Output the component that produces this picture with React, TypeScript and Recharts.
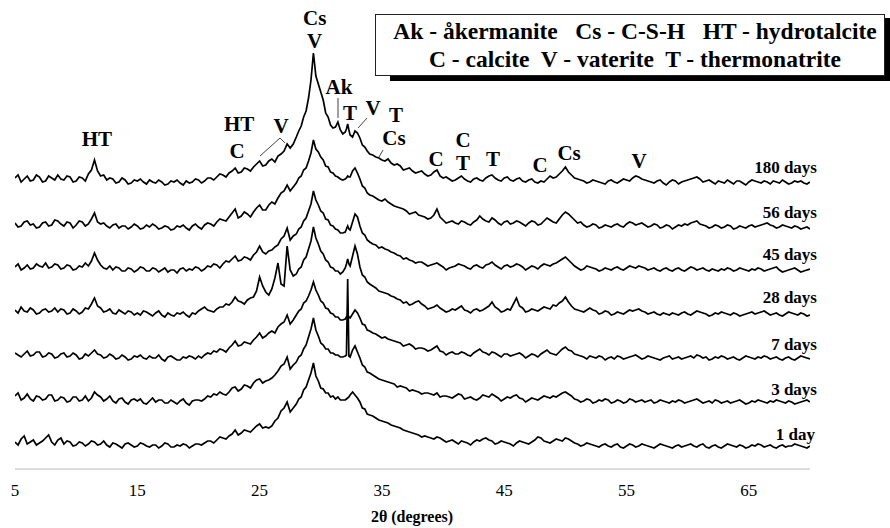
import React from 'react';
import { LineChart, Line, XAxis, YAxis, ReferenceDot, ReferenceLine } from 'recharts';

// 2θ sampling positions (degrees)
const X_2THETA = [
  5, 5.25, 5.5, 5.75, 6, 6.25, 6.5, 6.75, 7, 7.25, 7.5, 7.75, 8, 8.25, 8.5, 8.75, 9, 9.25, 9.5, 9.75,
  10, 10.25, 10.5, 10.75, 11, 11.25, 11.5, 11.75, 12, 12.25, 12.5, 12.75, 13, 13.25, 13.5, 13.75, 14, 14.25, 14.5, 14.75,
  15, 15.25, 15.5, 15.75, 16, 16.25, 16.5, 16.75, 17, 17.25, 17.5, 17.75, 18, 18.25, 18.5, 18.75, 19, 19.25, 19.5, 19.75,
  20, 20.25, 20.5, 20.75, 21, 21.25, 21.5, 21.75, 22, 22.25, 22.5, 22.75, 23, 23.25, 23.5, 23.75, 24, 24.25, 24.5, 24.75,
  25, 25.25, 25.5, 25.75, 26, 26.25, 26.5, 26.75, 27, 27.25, 27.5, 27.75,
  28, 28.2, 28.4, 28.6, 28.8, 29, 29.2, 29.4, 29.6, 29.8, 30, 30.2, 30.4, 30.6, 30.8, 31, 31.2, 31.4, 31.6, 31.8,
  32, 32.1, 32.2, 32.3, 32.4, 32.6, 32.8, 33, 33.2, 33.4, 33.6, 33.8, 34,
  34.25, 34.5, 34.75, 35, 35.25, 35.5, 35.75, 36, 36.25, 36.5, 36.75, 37, 37.25, 37.5, 37.75, 38, 38.25, 38.5, 38.75, 39,
  39.25, 39.5, 39.75, 40, 40.25, 40.5, 40.75, 41, 41.25, 41.5, 41.75, 42, 42.25, 42.5, 42.75, 43, 43.25, 43.5, 43.75, 44,
  44.25, 44.5, 44.75, 45, 45.25, 45.5, 45.75, 46, 46.25, 46.5, 46.75, 47, 47.25, 47.5, 47.75, 48, 48.25, 48.5, 48.75, 49,
  49.25, 49.5, 49.75, 50, 50.25, 50.5, 50.75, 51, 51.25, 51.5, 51.75, 52, 52.25, 52.5, 52.75, 53, 53.25, 53.5, 53.75, 54,
  54.25, 54.5, 54.75, 55, 55.25, 55.5, 55.75, 56, 56.25, 56.5, 56.75, 57, 57.25, 57.5, 57.75, 58, 58.25, 58.5, 58.75, 59,
  59.25, 59.5, 59.75, 60, 60.25, 60.5, 60.75, 61, 61.25, 61.5, 61.75, 62, 62.25, 62.5, 62.75, 63, 63.25, 63.5, 63.75, 64,
  64.25, 64.5, 64.75, 65, 65.25, 65.5, 65.75, 66, 66.25, 66.5, 66.75, 67, 67.25, 67.5, 67.75, 68, 68.25, 68.5, 68.75, 69,
  69.25, 69.5, 69.75, 70,
];

const X_TICKS = [5, 15, 25, 35, 45, 55, 65];

// Intensities (a.u.) of each pattern
const I_180 = [
  6, 9, 2, 5, 8, 3, 4, 9, 7, 2, 3, 8, 6, 4, 9, 5, 4, 8, 7, 2,
  3, 7, 6, 3, 10, 14, 24, 13, 8, 9, 4, 6, 5, 1, 2, 6, 4, 0, 1, 4,
  3, 5, 2, 0, 4, 2, 1, 4, 2, -1, 0, 3, 2, 4, 1, -1, 3, 1, 2, 5,
  4, 1, 3, 6, 6, 4, 7, 10, 9, 7, 11, 13, 16, 11, 12, 16, 15, 13, 17, 20,
  23, 18, 19, 23, 25, 22, 28, 30, 33, 40, 36, 40,
  47, 53, 58, 67, 73, 86, 104, 131, 108, 100, 92, 84, 71, 67, 59, 56, 57, 62, 54, 50,
  52, 55, 60, 54, 49, 47, 53, 51, 46, 39, 37, 33, 30,
  29, 27, 26, 24, 23, 25, 21, 19, 20, 18, 14, 15, 16, 13, 11, 12, 13, 10, 8, 9,
  12, 14, 8, 6, 7, 5, 3, 4, 6, 8, 5, 3, 2, 5, 6, 4, 3, 6, 8, 9,
  6, 4, 3, 6, 7, 4, 3, 5, 6, 3, 2, 4, 5, 2, 1, 3, 2, 5, 8, 6,
  7, 10, 13, 17, 12, 9, 6, 5, 4, 3, 1, 2, 4, 3, 2, 1, 0, 3, 4, 2,
  1, 3, 5, 4, 3, 6, 8, 7, 5, 4, 3, 2, 1, 3, 4, 1, -1, 2, 4, 3,
  0, 2, 3, 4, 5, 6, 7, 5, 2, 3, 4, 2, 0, 3, 2, 1, 4, 2, 0, 3,
  3, 1, -1, 2, 4, 3, 2, 1, 3, 2, 0, 3, 2, 1, 4, 2, 0, 1, 3, 2,
  3, 1, 0, 2,
];

const I_56 = [
  6, 2, 3, 7, 8, 4, 5, 1, 2, 6, 7, 3, 4, 9, 8, 5, 3, 7, 6, 1,
  4, 8, 7, 3, 5, 10, 16, 7, 5, 6, 3, 1, 4, 5, 1, 3, 3, 0, 2, 5,
  3, 0, 1, 4, 2, 5, 3, 0, 1, 3, 2, -1, 0, 3, 2, 4, 1, -1, 3, 5,
  2, 0, 4, 6, 5, 3, 7, 10, 9, 8, 12, 16, 20, 11, 13, 17, 15, 12, 17, 21,
  24, 19, 19, 24, 27, 25, 31, 36, 38, 44, 38, 42,
  46, 51, 53, 59, 61, 68, 76, 89, 80, 77, 72, 69, 63, 62, 57, 56, 53, 52, 50, 49,
  50, 51, 53, 52, 52, 58, 61, 56, 50, 43, 41, 36, 34,
  33, 31, 29, 28, 30, 27, 25, 23, 22, 21, 20, 18, 15, 16, 17, 14, 13, 12, 10, 11,
  14, 20, 12, 9, 6, 7, 8, 6, 5, 8, 7, 5, 4, 7, 9, 13, 10, 8, 7, 11,
  9, 6, 4, 7, 8, 5, 6, 8, 7, 5, 3, 6, 8, 7, 4, 5, 8, 11, 9, 7,
  6, 10, 14, 17, 15, 12, 9, 6, 7, 4, 2, 3, 5, 4, 1, 2, 4, 3, 2, 4,
  5, 3, 2, 5, 7, 6, 4, 5, 6, 4, 2, 3, 5, 4, 1, 2, 4, 3, 0, 2,
  4, 3, 5, 4, 6, 7, 8, 5, 4, 3, 1, 2, 4, 3, 1, 2, 4, 3, 0, 1,
  3, 2, 1, 3, 4, 2, 3, 4, 5, 6, 4, 3, 1, 2, 4, 3, 2, 1, 3, 2,
  0, 1, 2, 0,
];

const I_45 = [
  5, 8, 2, 4, 7, 3, 4, 8, 6, 5, 9, 4, 5, 8, 7, 3, 4, 7, 6, 2,
  3, 6, 5, 9, 6, 11, 19, 12, 7, 4, 3, 6, 2, 5, 4, 1, 1, 4, 3, 0,
  2, 5, 4, 1, 1, 4, 3, 0, 2, 4, 0, 2, 2, -1, 3, 4, 1, 3, 2, 5,
  4, 1, 3, 6, 5, 8, 7, 4, 8, 11, 10, 13, 16, 11, 12, 15, 14, 12, 17, 20,
  26, 20, 18, 21, 22, 25, 27, 33, 36, 44, 32, 36,
  38, 43, 45, 51, 54, 61, 68, 81, 72, 67, 61, 59, 53, 52, 47, 46, 43, 42, 39, 39,
  40, 43, 46, 43, 42, 50, 58, 55, 46, 39, 37, 32, 30,
  28, 27, 24, 25, 23, 22, 20, 19, 17, 16, 13, 14, 12, 11, 9, 10, 10, 8, 6, 7,
  8, 9, 7, 5, 2, 4, 5, 6, 8, 7, 6, 4, 3, 6, 7, 5, 4, 7, 8, 10,
  7, 5, 3, 6, 7, 5, 6, 8, 7, 5, 2, 4, 6, 5, 3, 6, 8, 7, 6, 8,
  9, 11, 13, 15, 12, 9, 6, 4, 2, 3, 6, 5, 4, 3, 1, 2, 4, 3, 2, 4,
  5, 3, 2, 4, 6, 5, 4, 6, 5, 4, 2, 3, 4, 2, 1, 3, 4, 2, 1, 3,
  4, 2, 1, 3, 5, 4, 2, 3, 4, 2, 1, 3, 2, 1, 3, 2, 4, 3, 1, 2,
  4, 3, 2, 1, 3, 2, 4, 3, 1, 2, 3, 4, 5, 2, 0, 1, 2, 3, 4, 2,
  0, 1, 2, 3,
];

const I_28 = [
  6, 3, 9, 5, 4, 8, 6, 2, 3, 6, 7, 4, 5, 8, 4, 7, 6, 2, 3, 7,
  5, 2, 4, 8, 7, 12, 18, 10, 8, 4, 5, 7, 3, 2, 6, 4, 2, 5, 4, 1,
  3, 1, 5, 4, 2, 0, 3, 5, 1, -1, 3, 1, 0, 3, 2, 4, 1, -1, 3, 2,
  5, 7, 9, 6, 5, 4, 7, 9, 9, 12, 11, 14, 19, 15, 14, 12, 16, 18, 19, 25,
  39, 30, 24, 21, 27, 38, 53, 32, 30, 70, 46, 40,
  42, 47, 49, 56, 59, 67, 75, 89, 78, 72, 65, 62, 56, 54, 49, 48, 45, 45, 42, 44,
  48, 52, 57, 52, 50, 60, 70, 62, 49, 41, 39, 34, 32,
  30, 28, 25, 24, 23, 22, 20, 19, 17, 16, 13, 14, 11, 12, 14, 15, 12, 10, 7, 8,
  9, 11, 8, 6, 4, 5, 7, 6, 8, 10, 6, 5, 3, 6, 7, 5, 6, 8, 10, 14,
  9, 7, 4, 5, 7, 6, 12, 18, 10, 8, 4, 5, 7, 6, 5, 7, 9, 8, 7, 11,
  10, 13, 15, 19, 14, 10, 7, 6, 5, 4, 6, 8, 6, 5, 2, 3, 5, 4, 1, 2,
  4, 3, 2, 4, 6, 5, 6, 7, 5, 4, 2, 3, 4, 2, 1, 3, 2, 1, 3, 2,
  1, 3, 4, 2, 1, 3, 5, 4, 3, 2, 0, 1, 3, 2, 4, 3, 2, 1, 3, 2,
  0, 1, 2, 3, 4, 2, 3, 4, 5, 3, 1, 2, 3, 1, 0, 2, 4, 3, 2, 1,
  3, 2, 0, 1,
];

const I_7 = [
  7, 5, 3, 6, 9, 4, 5, 8, 8, 3, 4, 7, 6, 2, 3, 6, 7, 3, 4, 7,
  5, 1, 2, 6, 4, 7, 10, 6, 5, 2, 3, 6, 4, 1, 2, 5, 3, 0, 1, 4,
  3, 5, 2, 1, 4, 2, 2, 5, 1, -1, 3, 4, 2, 0, 0, 3, 2, 4, 3, 1,
  4, 2, 5, 7, 6, 9, 8, 11, 10, 8, 12, 15, 19, 14, 15, 18, 17, 16, 20, 23,
  27, 22, 24, 27, 29, 27, 33, 36, 38, 45, 36, 40,
  45, 49, 51, 57, 59, 64, 70, 78, 70, 65, 59, 57, 52, 51, 47, 46, 43, 43, 40, 40,
  41, 43, 45, 43, 42, 46, 50, 47, 42, 36, 35, 30, 29,
  27, 26, 24, 22, 23, 21, 20, 19, 18, 17, 14, 15, 16, 14, 11, 12, 12, 11, 9, 10,
  12, 14, 9, 8, 5, 7, 8, 6, 6, 8, 7, 5, 4, 7, 9, 11, 8, 7, 5, 8,
  7, 5, 3, 6, 6, 4, 5, 6, 7, 5, 2, 4, 6, 5, 3, 6, 8, 10, 7, 6,
  5, 8, 11, 13, 10, 9, 6, 5, 4, 3, 1, 4, 3, 2, 4, 3, 0, 2, 3, 1,
  4, 3, 1, 2, 3, 4, 5, 3, 1, 2, 4, 3, 2, 1, 0, 2, 3, 4, 1, 2,
  3, 1, 2, 3, 4, 2, 5, 4, 2, 3, 0, 1, 3, 2, 4, 3, 1, 2, 3, 1,
  0, 2, 4, 3, 2, 1, 3, 2, 4, 3, 1, 2, 3, 1, 0, 2, 3, 1, 0, 2,
  4, 3, 2, 1,
];

const I_3 = [
  8, 11, 4, 6, 10, 5, 3, 8, 7, 4, 5, 9, 9, 3, 4, 7, 6, 2, 3, 7,
  7, 3, 4, 8, 3, 6, 12, 9, 7, 3, 5, 8, 3, 1, 5, 6, 2, 0, 4, 5,
  3, 5, 1, 0, 3, 6, 2, 4, 4, 1, 1, 4, 2, 0, 3, 5, 1, -1, 3, 4,
  4, 3, 5, 8, 7, 10, 9, 12, 10, 9, 12, 16, 17, 13, 15, 19, 18, 16, 21, 24,
  25, 21, 23, 24, 26, 29, 33, 38, 40, 47, 35, 39,
  42, 47, 49, 55, 59, 67, 75, 86, 74, 68, 61, 59, 55, 55, 51, 51, 49, 49, 47, 47,
  48, 49, 125, 48, 47, 54, 58, 52, 46, 39, 37, 32, 31,
  29, 27, 25, 24, 23, 22, 21, 20, 17, 18, 17, 16, 13, 14, 13, 12, 10, 11, 11, 10,
  9, 11, 7, 8, 8, 7, 6, 8, 10, 9, 5, 6, 7, 5, 4, 6, 9, 8, 7, 10,
  8, 6, 3, 5, 7, 6, 8, 9, 6, 5, 2, 4, 6, 5, 4, 6, 8, 7, 6, 8,
  7, 9, 11, 12, 10, 8, 5, 4, 2, 3, 5, 4, 1, 2, 4, 3, 5, 4, 1, 2,
  4, 3, 1, 2, 5, 4, 2, 3, 4, 2, 3, 4, 1, 2, 4, 3, 2, 1, 3, 2,
  4, 3, 1, 2, 3, 4, 5, 3, 1, 2, 3, 1, 4, 3, 1, 2, 3, 1, 2, 3,
  4, 2, 0, 1, 3, 2, 4, 3, 2, 1, 3, 2, 4, 3, 2, 1, 3, 2, 0, 1,
  2, 3, 4, 2,
];

const I_1 = [
  6, 3, 9, 12, 4, 6, 8, 3, 5, 7, 10, 13, 6, 3, 8, 10, 4, 7, 6, 2,
  3, 6, 5, 2, 4, 7, 6, 3, 4, 7, 3, 1, 5, 4, 2, 0, 4, 5, 3, 1,
  2, 5, 4, 2, 1, 3, 3, 0, 2, 5, 4, 1, 1, 3, 2, 4, 3, 0, 2, 4,
  4, 3, 5, 7, 7, 5, 8, 11, 10, 9, 12, 14, 18, 13, 15, 18, 17, 16, 19, 22,
  24, 20, 21, 20, 22, 27, 30, 37, 40, 46, 36, 40,
  44, 49, 51, 58, 61, 68, 75, 85, 72, 67, 60, 59, 55, 55, 51, 52, 49, 51, 48, 48,
  48, 49, 50, 51, 53, 56, 53, 50, 46, 40, 39, 34, 33,
  32, 30, 28, 27, 26, 25, 23, 22, 21, 20, 18, 17, 16, 15, 14, 13, 11, 12, 11, 10,
  9, 11, 10, 8, 6, 7, 8, 6, 4, 7, 6, 5, 3, 6, 8, 7, 9, 10, 8, 7,
  4, 5, 7, 6, 5, 4, 2, 5, 7, 6, 5, 4, 6, 8, 11, 10, 7, 6, 5, 7,
  9, 8, 7, 10, 9, 7, 5, 4, 2, 3, 5, 4, 3, 2, 1, 3, 4, 2, 1, 3,
  4, 1, 0, 2, 4, 3, 1, 2, 4, 3, 2, 1, 0, 2, 4, 3, 2, 1, 0, 2,
  3, 1, 2, 3, 4, 2, 1, 3, 4, 1, 0, 2, 3, 1, 0, 2, 4, 3, 2, 1,
  3, 2, 0, 1, 3, 2, 4, 3, 1, 2, 3, 1, 0, 2, 3, 1, 2, 2, 4, 3,
  2, 1, 0, 2,
];

const SERIES_KEYS = ['d180', 'd56', 'd45', 'd28', 'd7', 'd3', 'd1'];
const SERIES_NAMES = ['180 days', '56 days', '45 days', '28 days', '7 days', '3 days', '1 day'];
const SERIES_VALUES = [I_180, I_56, I_45, I_28, I_7, I_3, I_1];
// vertical stacking offset of each pattern (a.u.)
const STACK_OFFSET = [285, 240, 197, 153, 109, 65, 21];
const NAME_LEVEL = [296, 251, 209, 166, 119, 74, 29];

const PEAK_LABELS = [
  { x: 29.5, y: 451, t: 'Cs' },
  { x: 29.5, y: 428, t: 'V' },
  { x: 11.7, y: 330, t: 'HT' },
  { x: 23.32, y: 345, t: 'HT' },
  { x: 23.15, y: 318, t: 'C' },
  { x: 26.75, y: 343, t: 'V' },
  { x: 31.49, y: 382, t: 'Ak' },
  { x: 32.39, y: 356, t: 'T' },
  { x: 34.27, y: 361, t: 'V' },
  { x: 36.15, y: 354, t: 'T' },
  { x: 35.99, y: 331, t: 'Cs' },
  { x: 39.42, y: 310, t: 'C' },
  { x: 41.63, y: 329, t: 'C' },
  { x: 41.63, y: 306, t: 'T' },
  { x: 44.08, y: 310, t: 'T' },
  { x: 47.93, y: 304, t: 'C' },
  { x: 50.3, y: 316, t: 'Cs' },
  { x: 56.02, y: 308, t: 'V' },
];

const LEADERS = [
  [{ x: 25.03, y: 313 }, { x: 26.67, y: 331 }],
  [{ x: 26.67, y: 331 }, { x: 27.08, y: 326 }],
  [{ x: 31.41, y: 371 }, { x: 31.41, y: 351 }],
  [{ x: 33.78, y: 351 }, { x: 33.05, y: 341 }],
  [{ x: 35.09, y: 319 }, { x: 34.76, y: 312 }],
];

const data = X_2THETA.map((x, i) => {
  const row: Record<string, number> = { x };
  SERIES_KEYS.forEach((k, s) => {
    row[k] = SERIES_VALUES[s][i] + STACK_OFFSET[s];
  });
  return row;
});

const SERIF = "'Liberation Serif', 'Times New Roman', serif";

const textShape = (txt: string, size: number, anchor: string, baseline: string) => (p: any) => (
  <text
    x={p.cx}
    y={p.cy}
    textAnchor={anchor}
    dominantBaseline={baseline}
    fontFamily={SERIF}
    fontWeight="bold"
    fontSize={size}
    fill="#000"
  >
    {txt}
  </text>
);

export default function App() {
  return (
    <div style={{ position: 'absolute', left: 0, top: 0, width: 890, height: 528, background: '#fff' }}>
      <LineChart width={890} height={528} data={data} margin={{ top: 10, right: 80, bottom: 29, left: 15 }}>
        <XAxis
          dataKey="x"
          type="number"
          domain={[5, 70]}
          ticks={X_TICKS}
          interval={0}
          tickLine={false}
          axisLine={{ stroke: '#b8b8b8', strokeWidth: 1 }}
          tick={{ fill: '#000', fontSize: 17, fontFamily: SERIF }}
          tickMargin={9}
          height={30}
          allowDataOverflow
        />
        <YAxis type="number" domain={[0, 459]} hide allowDataOverflow />
        {SERIES_KEYS.map((k) => (
          <Line
            key={k}
            dataKey={k}
            type="linear"
            stroke="#000"
            strokeWidth={1.7}
            dot={false}
            activeDot={false}
            isAnimationActive={false}
          />
        ))}
        {LEADERS.map((seg, i) => (
          <ReferenceLine key={'l' + i} segment={seg} stroke="#444" strokeWidth={1} ifOverflow="visible" />
        ))}
        {PEAK_LABELS.map((p, i) => (
          <ReferenceDot
            key={'p' + i}
            x={p.x}
            y={p.y}
            r={0}
            ifOverflow="visible"
            shape={textShape(p.t, 21, 'middle', 'central')}
          />
        ))}
        {SERIES_NAMES.map((n, i) => (
          <ReferenceDot
            key={'n' + i}
            x={i === 6 ? 70.41 : 70.57}
            y={NAME_LEVEL[i]}
            r={0}
            ifOverflow="visible"
            shape={textShape(n, 17, 'end', 'alphabetic')}
          />
        ))}
      </LineChart>
      <div
        style={{
          position: 'absolute',
          left: 375,
          top: 14,
          width: 510,
          height: 62,
          boxSizing: 'border-box',
          border: '1px solid #222',
          background: '#fff',
          paddingTop: 2,
          paddingLeft: 10,
          fontFamily: SERIF,
          fontWeight: 'bold',
          fontSize: 23.5,
          lineHeight: '28px',
          textAlign: 'center',
          whiteSpace: 'pre',
          color: '#000',
        }}
      >
        <div>{'Ak - åkermanite   Cs - C-S-H   HT - hydrotalcite'}</div>
        <div>{'C - calcite  V - vaterite  T - thermonatrite'}</div>
      </div>
      <div style={{ position: 'absolute', left: 390, top: 76, width: 500, height: 5, background: '#000' }} />
      <div style={{ position: 'absolute', left: 885, top: 18, width: 5, height: 63, background: '#000' }} />
      <div
        style={{
          position: 'absolute',
          left: 312,
          top: 507,
          width: 200,
          textAlign: 'center',
          fontFamily: SERIF,
          fontWeight: 'bold',
          fontSize: 16,
          lineHeight: '20px',
          color: '#000',
        }}
      >
        2θ (degrees)
      </div>
    </div>
  );
}
